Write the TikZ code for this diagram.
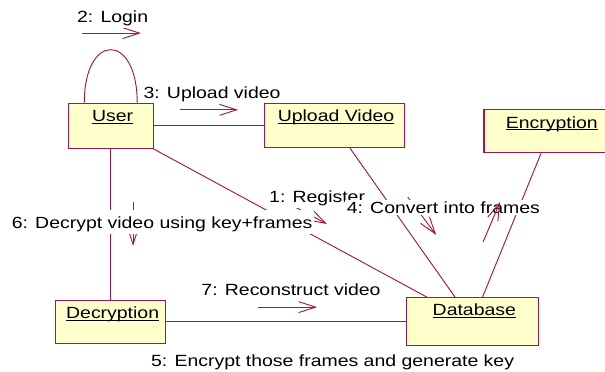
\documentclass[tikz,border=0pt]{standalone}
\usepackage{fontspec}
\setmainfont{Liberation Sans}[FakeStretch=1.2]
\usetikzlibrary{arrows.meta,positioning}
\definecolor{trazo}{HTML}{A0164E}
\definecolor{fondo}{HTML}{FFFFCC}
\newcommand{\subraya}[1]{\setbox0\hbox{#1}\rlap{\rule[-1.5pt]{\wd0}{0.65pt}}\box0}
\tikzset{
  objeto/.style={draw=trazo,fill=fondo,line width=0.8pt,inner sep=0pt},
  nombre/.style={anchor=base,inner sep=0pt},
  enlace/.style={draw=trazo,line width=0.7pt},
  mensaje/.style={anchor=base,fill=white,inner sep=1.5pt},
  flecha/.style={-{Straight Barb[length=4.5mm,width=2.9mm]},draw=trazo,line width=0.7pt},
}

\begin{document}
\begin{tikzpicture}[x=1cm,y=1cm,font=\fontsize{12.2}{14}\selectfont]
  \useasboundingbox (0,0) rectangle (16.007,9.816);
  \clip (0,0) rectangle (16.007,9.816);
  % objetos
  \node[objeto,minimum width=2.25cm,minimum height=1.19cm] (user) at (2.93,6.49) {};
  \node[objeto,minimum width=3.70cm,minimum height=1.16cm] (subir) at (8.84,6.49) {};
  \node[objeto,minimum width=3.49cm,minimum height=1.14cm] (cifrado) at (14.55,6.34) {};
  \node[objeto,minimum width=2.91cm,minimum height=1.14cm] (descifrado) at (2.93,1.30) {};
  \node[objeto,minimum width=3.47cm,minimum height=1.27cm] (basedatos) at (12.50,1.30) {};
  \node[nombre] (userlbl) at ([xshift=0.05cm,yshift=-0.50cm]user.north) {\subraya{User}};
  \node[nombre] (subirlbl) at ([xshift=0.05cm,yshift=-0.48cm]subir.north) {\subraya{Upload Video}};
  \node[nombre] (cifradolbl) at ([xshift=0.05cm,yshift=-0.50cm]cifrado.north) {\subraya{Encryption}};
  \node[nombre] (descifradolbl) at ([xshift=0.05cm,yshift=-0.50cm]descifrado.north) {\subraya{Decryption}};
  \node[nombre] (basedatoslbl) at ([xshift=0.05cm,yshift=-0.48cm]basedatos.north) {\subraya{Database}};
  % enlaces
  \draw[enlace] ([xshift=-0.70cm]user.north) .. controls +(0,1.87) and +(0,1.87) .. ([xshift=0.70cm]user.north);
  \draw[enlace] (user) -- (subir);
  \draw[enlace] (user) -- (basedatos);
  \draw[enlace] (user) -- (descifrado);
  \draw[enlace] (subir) -- (basedatos);
  \draw[enlace] (cifrado) -- (basedatos);
  \draw[enlace] (descifrado) -- (basedatos);
  % flechas de los mensajes
  \coordinate (a2i) at (2.17,8.94);  \coordinate (a2f) at (3.73,8.94);
  \coordinate (a3i) at (4.76,6.91);  \coordinate (a3f) at (6.30,6.91);
  \coordinate (a1i) at (7.75,4.37);  \coordinate (a1f) at (8.65,3.89);
  \coordinate (a4i) at (10.79,4.60); \coordinate (a4f) at (11.54,3.60);
  \coordinate (a5i) at (12.78,3.41); \coordinate (a5f) at (13.23,4.47);
  \coordinate (a6i) at (3.52,4.47);  \coordinate (a6f) at (3.52,3.31);
  \coordinate (a7i) at (6.83,1.69);  \coordinate (a7f) at (8.39,1.69);
  \draw[flecha] (a2i) -- (a2f);
  \draw[flecha] (a3i) -- (a3f);
  \draw[flecha] (a1i) -- (a1f);
  \draw[flecha] (a4i) -- (a4f);
  \draw[flecha] (a6i) -- (a6f);
  \draw[flecha] (a7i) -- (a7f);
  % mensajes
  \node[mensaje] (m2) at (2.98,9.21) {2: Login};
  \node[mensaje,fill=none] (m3) at (5.61,7.20) {3: Upload video};
  \node[mensaje] (m1) at (8.39,4.45) {1: Register};
  \node[mensaje,text height=1.3em] (m6) at (4.29,3.76) {6: Decrypt video using key+frames};
  \node[mensaje,text height=0.85em] (m4) at (11.73,4.18) {4: Convert into frames};
  \node[mensaje] (m7) at (7.70,2.01) {7: Reconstruct video};
  \node[mensaje] (m5) at (8.80,0.11) {5: Encrypt those frames and generate key};
  \draw[flecha] (a5i) -- (a5f);
\end{tikzpicture}
\end{document}
